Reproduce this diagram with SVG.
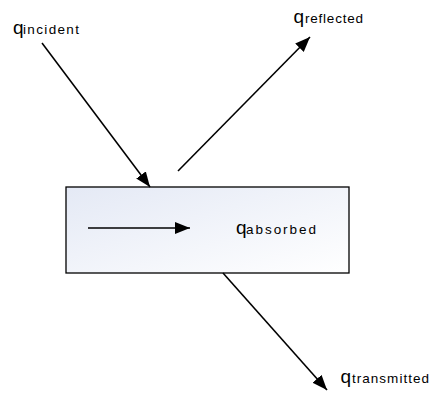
<svg xmlns="http://www.w3.org/2000/svg" width="429" height="401" viewBox="0 0 429 401">
  <style>
    .flow { stroke: #000; stroke-width: 1.6; fill: none; marker-end: url(#head); }
    .q { font-family: "Liberation Sans", Arial, sans-serif; font-size: 19px; fill: #000; }
    .sub { font-family: "Liberation Sans", Arial, sans-serif; font-size: 13.5px; fill: #000; }
  </style>
  <defs>
    <marker id="head" markerUnits="userSpaceOnUse" markerWidth="16" markerHeight="13" refX="15" refY="6" orient="auto">
      <path d="M0,0 L15,6 L0,12 z" fill="#000"/>
    </marker>
    <linearGradient id="slab" x1="0" y1="0" x2="1" y2="1">
      <stop offset="0" stop-color="#e4e9f5"/>
      <stop offset="1" stop-color="#ffffff"/>
    </linearGradient>
  </defs>

  <rect width="429" height="401" fill="#fff"/>

  <!-- material slab -->
  <g id="slab-node">
    <rect x="66" y="187" width="283" height="86" fill="url(#slab)" stroke="#000" stroke-width="1.3"/>
  </g>

  <!-- heat flows -->
  <g id="connectors">
    <line class="flow" x1="42" y1="43" x2="150" y2="187"/>
    <line class="flow" x1="178" y1="171" x2="310" y2="37"/>
    <line class="flow" x1="88" y1="228" x2="190" y2="228"/>
    <line class="flow" x1="223" y1="273" x2="327" y2="390"/>
  </g>

  <g id="label-incident">
    <text class="q" x="13" y="34">q</text>
    <text class="sub" x="23" y="34" textLength="56" lengthAdjust="spacing">incident</text>
  </g>
  <g id="label-reflected">
    <text class="q" x="293.5" y="23">q</text>
    <text class="sub" x="305" y="23" textLength="58" lengthAdjust="spacing">reflected</text>
  </g>
  <g id="label-absorbed">
    <text class="q" x="236" y="234">q</text>
    <text class="sub" x="246" y="234" textLength="70" lengthAdjust="spacing">absorbed</text>
  </g>
  <g id="label-transmitted">
    <text class="q" x="340.5" y="383">q</text>
    <text class="sub" x="352" y="383" textLength="77" lengthAdjust="spacing">transmitted</text>
  </g>
</svg>
